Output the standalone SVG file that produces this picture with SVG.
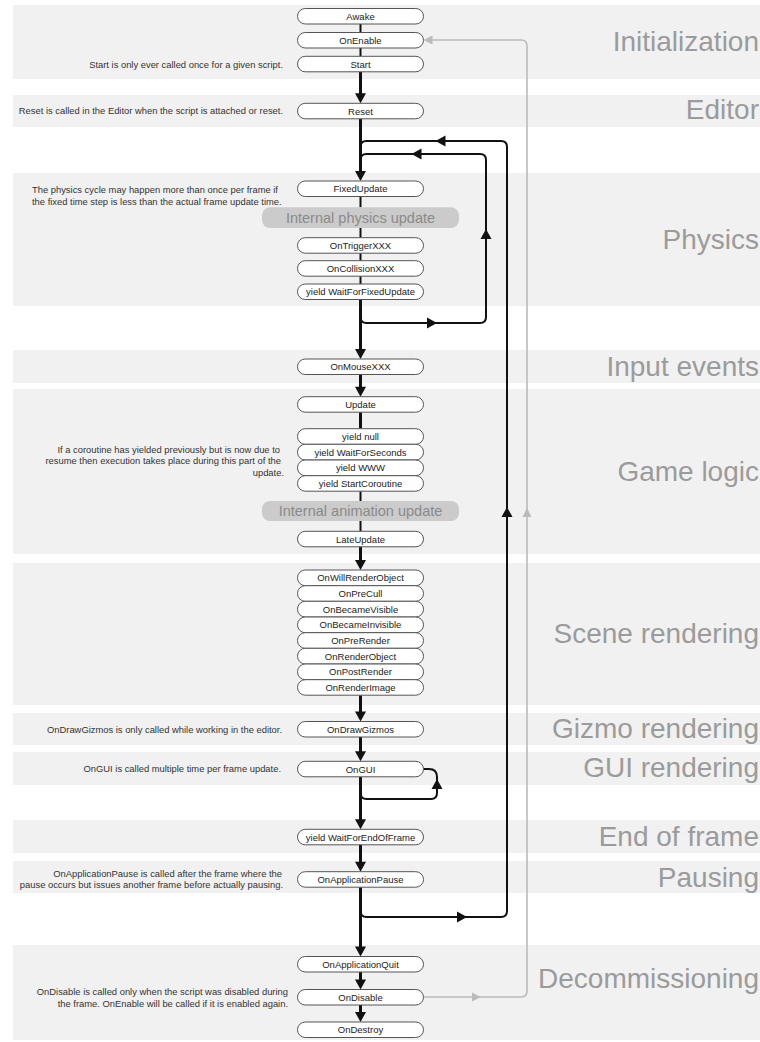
<svg xmlns="http://www.w3.org/2000/svg" xmlns:xlink="http://www.w3.org/1999/xlink" width="760" height="1042" viewBox="0 0 760 1042">
<defs>
<style>
.band{fill:#f1f1f1}
.sec{font-family:"Liberation Sans",Arial,sans-serif;font-size:28px;fill:#9b9b9b;text-anchor:end}
.node rect{fill:#fff;stroke:#555;stroke-width:1}
.node text{font-family:"Liberation Sans",Arial,sans-serif;font-size:9.5px;fill:#222;text-anchor:middle}
.int rect{fill:#cbcbcb}
.int text{font-family:"Liberation Sans",Arial,sans-serif;font-size:14.5px;fill:#8a8a8a;text-anchor:middle}
.note{font-family:"Liberation Sans",Arial,sans-serif;font-size:9.4px;fill:#333;text-anchor:end}
.notel{font-family:"Liberation Sans",Arial,sans-serif;font-size:9.4px;fill:#333;text-anchor:start}
.thin{stroke:#111;stroke-width:2;fill:none}
.thick{stroke:#111;stroke-width:3;fill:none}
.loop{stroke:#111;stroke-width:2;fill:none}
.grey{stroke:#bbb;stroke-width:1.6;fill:none}
.ah{fill:#111}
.gah{fill:#bbb}
</style>
<path id="tri" d="M0,0 L-10,-5.5 L-10,5.5 Z"/>
<path id="gtri" d="M0,0 L-9,-4.5 L-9,4.5 Z"/>
</defs>

<g id="bands">
<rect class="band" x="13" y="5" width="747" height="74"/>
<rect class="band" x="13" y="95" width="747" height="32"/>
<rect class="band" x="13" y="173" width="747" height="133"/>
<rect class="band" x="13" y="350" width="747" height="33"/>
<rect class="band" x="13" y="389" width="747" height="165"/>
<rect class="band" x="13" y="563" width="747" height="142"/>
<rect class="band" x="13" y="713" width="747" height="32"/>
<rect class="band" x="13" y="752" width="747" height="33"/>
<rect class="band" x="13" y="820" width="747" height="33"/>
<rect class="band" x="13" y="861" width="747" height="32"/>
<rect class="band" x="13" y="945" width="747" height="95"/>
</g>

<g id="sections">
<text class="sec" x="759" y="51">Initialization</text>
<text class="sec" x="759" y="119">Editor</text>
<text class="sec" x="759" y="249">Physics</text>
<text class="sec" x="759" y="376">Input events</text>
<text class="sec" x="759" y="481">Game logic</text>
<text class="sec" x="759" y="643">Scene rendering</text>
<text class="sec" x="759" y="738">Gizmo rendering</text>
<text class="sec" x="759" y="777">GUI rendering</text>
<text class="sec" x="759" y="846">End of frame</text>
<text class="sec" x="759" y="887">Pausing</text>
<text class="sec" x="759" y="988">Decommissioning</text>
</g>

<g id="notes">
<text class="note" x="283" y="67.5">Start is only ever called once for a given script.</text>
<text class="note" x="283" y="114">Reset is called in the Editor when the script is attached or reset.</text>
<text class="notel" x="32" y="192.5">The physics cycle may happen more than once per frame if</text>
<text class="notel" x="32" y="205">the fixed time step is less than the actual frame update time.</text>
<text class="note" x="280" y="452.5">If a coroutine has yielded previously but is now due to</text>
<text class="note" x="281" y="464">resume then execution takes place during this part of the</text>
<text class="note" x="284" y="475.5">update.</text>
<text class="note" x="282" y="732.5">OnDrawGizmos is only called while working in the editor.</text>
<text class="note" x="281" y="772">OnGUI is called multiple time per frame update.</text>
<text class="note" x="282" y="876.5">OnApplicationPause is called after the frame where the</text>
<text class="note" x="283" y="888">pause occurs but issues another frame before actually pausing.</text>
<text class="note" x="288" y="994.5">OnDisable is called only when the script was disabled during</text>
<text class="note" x="288" y="1006.5">the frame. OnEnable will be called if it is enabled again.</text>
</g>

<g id="connectors">
<line class="thin" x1="360.5" y1="24" x2="360.5" y2="32.5"/>
<line class="thin" x1="360.5" y1="48" x2="360.5" y2="56.3"/>
<line class="thick" x1="360.5" y1="71.8" x2="360.5" y2="94"/>
<use class="ah" xlink:href="#tri" href="#tri" transform="translate(360.5,103.3) rotate(90)"/>
<line class="thick" x1="360.5" y1="118.8" x2="360.5" y2="172"/>
<use class="ah" xlink:href="#tri" href="#tri" transform="translate(360.5,181) rotate(90)"/>
<line class="thin" x1="360.5" y1="196.5" x2="360.5" y2="207.3"/>
<line class="thin" x1="360.5" y1="228" x2="360.5" y2="237.7"/>
<line class="thin" x1="360.5" y1="253.2" x2="360.5" y2="260.7"/>
<line class="thin" x1="360.5" y1="276.2" x2="360.5" y2="284"/>
<line class="thick" x1="360.5" y1="299.5" x2="360.5" y2="350"/>
<use class="ah" xlink:href="#tri" href="#tri" transform="translate(360.5,359) rotate(90)"/>
<line class="thick" x1="360.5" y1="374.5" x2="360.5" y2="388"/>
<use class="ah" xlink:href="#tri" href="#tri" transform="translate(360.5,396.7) rotate(90)"/>
<line class="thick" x1="360.5" y1="412.2" x2="360.5" y2="428.7"/>
<line class="thin" x1="360.5" y1="491.2" x2="360.5" y2="501"/>
<line class="thin" x1="360.5" y1="521" x2="360.5" y2="531.3"/>
<line class="thick" x1="360.5" y1="546.8" x2="360.5" y2="561"/>
<use class="ah" xlink:href="#tri" href="#tri" transform="translate(360.5,570) rotate(90)"/>
<line class="thick" x1="360.5" y1="695.2" x2="360.5" y2="712"/>
<use class="ah" xlink:href="#tri" href="#tri" transform="translate(360.5,721.5) rotate(90)"/>
<line class="thick" x1="360.5" y1="737" x2="360.5" y2="752"/>
<use class="ah" xlink:href="#tri" href="#tri" transform="translate(360.5,761.3) rotate(90)"/>
<line class="thick" x1="360.5" y1="776.8" x2="360.5" y2="820"/>
<use class="ah" xlink:href="#tri" href="#tri" transform="translate(360.5,829.3) rotate(90)"/>
<line class="thick" x1="360.5" y1="844.8" x2="360.5" y2="862"/>
<use class="ah" xlink:href="#tri" href="#tri" transform="translate(360.5,871.7) rotate(90)"/>
<line class="thick" x1="360.5" y1="887.2" x2="360.5" y2="947"/>
<use class="ah" xlink:href="#tri" href="#tri" transform="translate(360.5,956.5) rotate(90)"/>
<line class="thick" x1="360.5" y1="972" x2="360.5" y2="980"/>
<use class="ah" xlink:href="#tri" href="#tri" transform="translate(360.5,989.5) rotate(90)"/>
<line class="thick" x1="360.5" y1="1005" x2="360.5" y2="1013"/>
<use class="ah" xlink:href="#tri" href="#tri" transform="translate(360.5,1022) rotate(90)"/>

<!-- outer frame loop -->
<path class="loop" d="M360.5,911 Q360.5,917 366.5,917 L501,917 Q507,917 507,911 L507,147 Q507,141 501,141 L366.5,141 Q360.5,141 360.5,147"/>
<use class="ah" xlink:href="#tri" href="#tri" transform="translate(467,917)"/>
<use class="ah" xlink:href="#tri" href="#tri" transform="translate(507,507) rotate(-90)"/>
<use class="ah" xlink:href="#tri" href="#tri" transform="translate(435.5,141) rotate(180)"/>

<!-- physics loop -->
<path class="loop" d="M360.5,317 Q360.5,323 366.5,323 L480,323 Q486,323 486,317 L486,160 Q486,154 480,154 L366.5,154 Q360.5,154 360.5,160"/>
<use class="ah" xlink:href="#tri" href="#tri" transform="translate(437,323)"/>
<use class="ah" xlink:href="#tri" href="#tri" transform="translate(486,229) rotate(-90)"/>
<use class="ah" xlink:href="#tri" href="#tri" transform="translate(411.5,154) rotate(180)"/>

<!-- OnGUI loop -->
<path class="loop" d="M360.5,793 Q360.5,799 366.5,799 L431,799 Q437,799 437,793 L437,777 Q437,769 429,769 L423.5,769"/>
<use class="ah" xlink:href="#tri" href="#tri" transform="translate(437,779) rotate(-90)"/>

<!-- disable / enable loop -->
<path class="grey" d="M423.5,997 L521,997 Q527,997 527,991 L527,46 Q527,40 521,40 L432,40"/>
<use class="gah" xlink:href="#gtri" href="#gtri" transform="translate(481,997)"/>
<use class="gah" xlink:href="#gtri" href="#gtri" transform="translate(527,508) rotate(-90)"/>
<use class="gah" xlink:href="#gtri" href="#gtri" transform="translate(423.5,40) rotate(180)"/>
</g>

<g id="internal-physics-update" class="int"><rect x="262" y="207.3" width="197" height="20.7" rx="8"/><text x="360.5" y="222.9">Internal physics update</text></g>
<g id="internal-animation-update" class="int"><rect x="262" y="501" width="197" height="20" rx="8"/><text x="360.5" y="516.2">Internal animation update</text></g>

<g id="awake" class="node"><rect x="297.5" y="8.5" width="126" height="15.5" rx="7.75"/><text x="360.5" y="19.7">Awake</text></g>
<g id="onenable" class="node"><rect x="297.5" y="32.5" width="126" height="15.5" rx="7.75"/><text x="360.5" y="43.7">OnEnable</text></g>
<g id="start" class="node"><rect x="297.5" y="56.3" width="126" height="15.5" rx="7.75"/><text x="360.5" y="67.5">Start</text></g>
<g id="reset" class="node"><rect x="297.5" y="103.3" width="126" height="15.5" rx="7.75"/><text x="360.5" y="114.5">Reset</text></g>
<g id="fixedupdate" class="node"><rect x="297.5" y="181" width="126" height="15.5" rx="7.75"/><text x="360.5" y="192.2">FixedUpdate</text></g>
<g id="ontriggerxxx" class="node"><rect x="297.5" y="237.7" width="126" height="15.5" rx="7.75"/><text x="360.5" y="248.9">OnTriggerXXX</text></g>
<g id="oncollisionxxx" class="node"><rect x="297.5" y="260.7" width="126" height="15.5" rx="7.75"/><text x="360.5" y="271.9">OnCollisionXXX</text></g>
<g id="yield-waitforfixedupdate" class="node"><rect x="297.5" y="284" width="126" height="15.5" rx="7.75"/><text x="360.5" y="295.2">yield WaitForFixedUpdate</text></g>
<g id="onmousexxx" class="node"><rect x="297.5" y="359" width="126" height="15.5" rx="7.75"/><text x="360.5" y="370.2">OnMouseXXX</text></g>
<g id="update" class="node"><rect x="297.5" y="396.7" width="126" height="15.5" rx="7.75"/><text x="360.5" y="407.9">Update</text></g>
<g id="yield-null" class="node"><rect x="297.5" y="428.7" width="126" height="15.6" rx="7.75"/><text x="360.5" y="439.9">yield null</text></g>
<g id="yield-waitforseconds" class="node"><rect x="297.5" y="444.3" width="126" height="15.7" rx="7.75"/><text x="360.5" y="455.5">yield WaitForSeconds</text></g>
<g id="yield-www" class="node"><rect x="297.5" y="460" width="126" height="15.7" rx="7.75"/><text x="360.5" y="471.2">yield WWW</text></g>
<g id="yield-startcoroutine" class="node"><rect x="297.5" y="475.7" width="126" height="15.5" rx="7.75"/><text x="360.5" y="486.9">yield StartCoroutine</text></g>
<g id="lateupdate" class="node"><rect x="297.5" y="531.3" width="126" height="15.5" rx="7.75"/><text x="360.5" y="542.5">LateUpdate</text></g>
<g id="onwillrenderobject" class="node"><rect x="297.5" y="570" width="126" height="15.7" rx="7.75"/><text x="360.5" y="581.2">OnWillRenderObject</text></g>
<g id="onprecull" class="node"><rect x="297.5" y="585.7" width="126" height="15.6" rx="7.75"/><text x="360.5" y="596.9">OnPreCull</text></g>
<g id="onbecamevisible" class="node"><rect x="297.5" y="601.3" width="126" height="15.7" rx="7.75"/><text x="360.5" y="612.5">OnBecameVisible</text></g>
<g id="onbecameinvisible" class="node"><rect x="297.5" y="617" width="126" height="15.7" rx="7.75"/><text x="360.5" y="628.2">OnBecameInvisible</text></g>
<g id="onprerender" class="node"><rect x="297.5" y="632.7" width="126" height="15.6" rx="7.75"/><text x="360.5" y="643.9">OnPreRender</text></g>
<g id="onrenderobject" class="node"><rect x="297.5" y="648.3" width="126" height="15.7" rx="7.75"/><text x="360.5" y="659.5">OnRenderObject</text></g>
<g id="onpostrender" class="node"><rect x="297.5" y="664" width="126" height="15.7" rx="7.75"/><text x="360.5" y="675.2">OnPostRender</text></g>
<g id="onrenderimage" class="node"><rect x="297.5" y="679.7" width="126" height="15.5" rx="7.75"/><text x="360.5" y="690.9">OnRenderImage</text></g>
<g id="ondrawgizmos" class="node"><rect x="297.5" y="721.5" width="126" height="15.5" rx="7.75"/><text x="360.5" y="732.7">OnDrawGizmos</text></g>
<g id="ongui" class="node"><rect x="297.5" y="761.3" width="126" height="15.5" rx="7.75"/><text x="360.5" y="772.5">OnGUI</text></g>
<g id="yield-waitforendofframe" class="node"><rect x="297.5" y="829.3" width="126" height="15.5" rx="7.75"/><text x="360.5" y="840.5">yield WaitForEndOfFrame</text></g>
<g id="onapplicationpause" class="node"><rect x="297.5" y="871.7" width="126" height="15.5" rx="7.75"/><text x="360.5" y="882.9">OnApplicationPause</text></g>
<g id="onapplicationquit" class="node"><rect x="297.5" y="956.5" width="126" height="15.5" rx="7.75"/><text x="360.5" y="967.7">OnApplicationQuit</text></g>
<g id="ondisable" class="node"><rect x="297.5" y="989.5" width="126" height="15.5" rx="7.75"/><text x="360.5" y="1000.7">OnDisable</text></g>
<g id="ondestroy" class="node"><rect x="297.5" y="1022" width="126" height="15.5" rx="7.75"/><text x="360.5" y="1033.2">OnDestroy</text></g>
</svg>
